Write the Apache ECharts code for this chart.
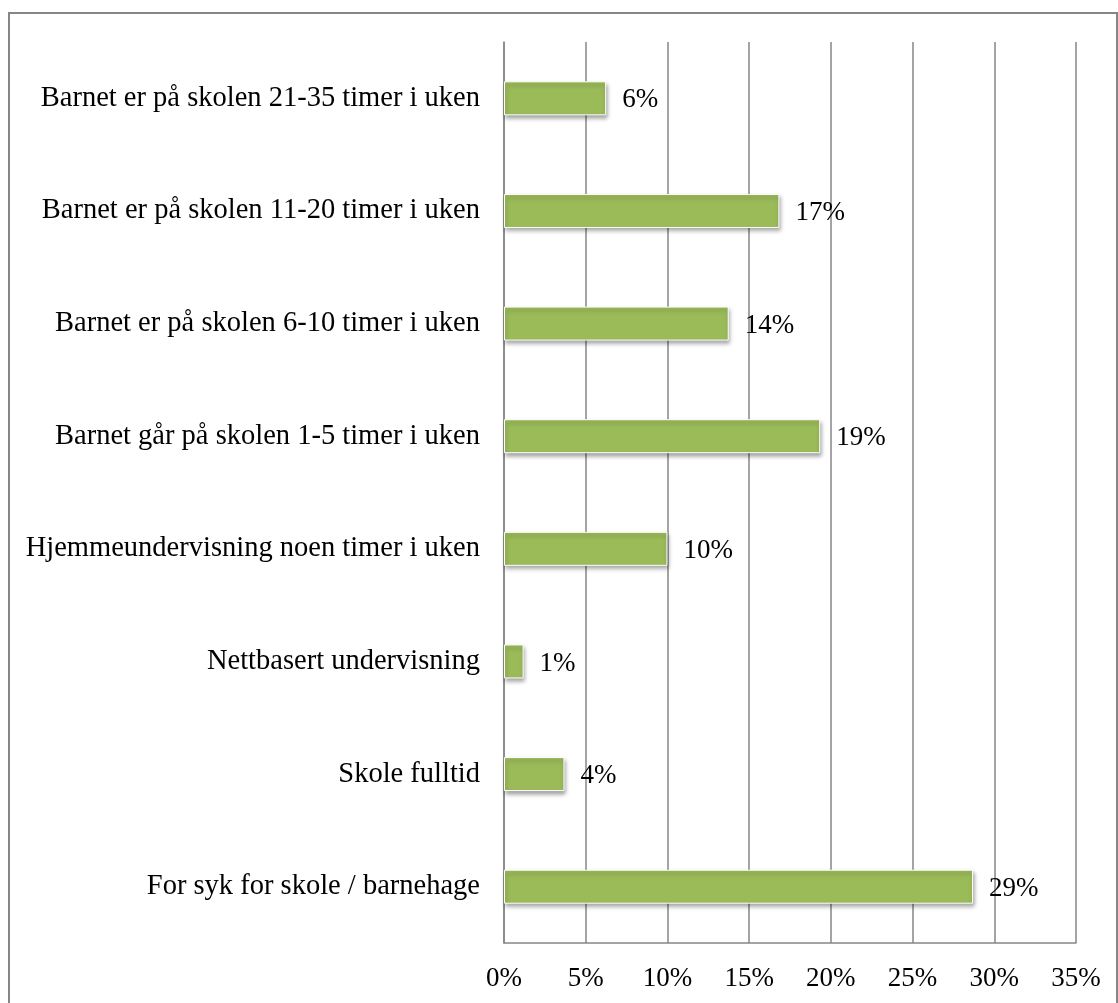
<!DOCTYPE html>
<html>
<head>
<meta charset="utf-8">
<script src="https://cdn.jsdelivr.net/npm/echarts@6/dist/echarts.min.js"></script>
<style>
  html, body { margin: 0; padding: 0; background: #ffffff; }
  #chart { width: 1118px; height: 1003px; }
</style>
</head>
<body>
<div id="chart"></div>
<script>
// Categories listed top to bottom
const categories = [
  'Barnet er på skolen 21-35 timer i uken',
  'Barnet er på skolen 11-20 timer i uken',
  'Barnet er på skolen 6-10 timer i uken',
  'Barnet går på skolen 1-5 timer i uken',
  'Hjemmeundervisning noen timer i uken',
  'Nettbasert undervisning',
  'Skole fulltid',
  'For syk for skole / barnehage'
];
// Share of respondents, percent
const shares = [6.25, 16.85, 13.75, 19.35, 10.0, 1.2, 3.7, 28.7];
// Value axis ticks
const tickLabels = ['0%', '5%', '10%', '15%', '20%', '25%', '30%', '35%'];

const FONT = '"Liberation Serif", "DejaVu Serif", serif';
const GRID_COLOR = '#868686';

const chart = echarts.init(document.getElementById('chart'), null, { renderer: 'canvas' });

chart.setOption({
  animation: false,
  backgroundColor: '#ffffff',
  graphic: [{
    type: 'rect',
    shape: { x: 9, y: 13, width: 1108, height: 1100 },
    style: { fill: 'none', stroke: GRID_COLOR, lineWidth: 2 },
    silent: true
  }],
  grid: { left: 504, right: 42, top: 42, bottom: 60, containLabel: false },
  xAxis: {
    type: 'value',
    min: 0,
    max: 35,
    interval: 5,
    axisLine: { show: true, lineStyle: { color: GRID_COLOR, width: 1.5 } },
    axisTick: { show: false },
    splitLine: { show: true, lineStyle: { color: GRID_COLOR, width: 1.5 } },
    axisLabel: {
      margin: 22,
      color: '#000000',
      fontFamily: FONT,
      fontSize: 27,
      formatter: (v) => tickLabels[Math.round(v / 5)]
    }
  },
  yAxis: {
    type: 'category',
    data: categories,
    inverse: true,
    axisLine: { show: true, lineStyle: { color: GRID_COLOR, width: 1.5 } },
    axisTick: { show: false },
    splitLine: { show: false },
    axisLabel: {
      margin: 24,
      color: '#000000',
      fontFamily: FONT,
      fontSize: 28.5
    }
  },
  series: [{
    type: 'bar',
    data: shares,
    barWidth: 34,
    itemStyle: {
      color: '#9BBB59',
      borderColor: '#ffffff',
      borderWidth: 1,
      shadowColor: 'rgba(0,0,0,0.35)',
      shadowBlur: 4,
      shadowOffsetX: 1,
      shadowOffsetY: 3
    },
    label: {
      show: true,
      position: 'right',
      distance: 16,
      offset: [0, 2],
      color: '#000000',
      fontFamily: FONT,
      fontSize: 27,
      formatter: (p) => Math.round(p.value) + '%'
    }
  }]
});
</script>
</body>
</html>
